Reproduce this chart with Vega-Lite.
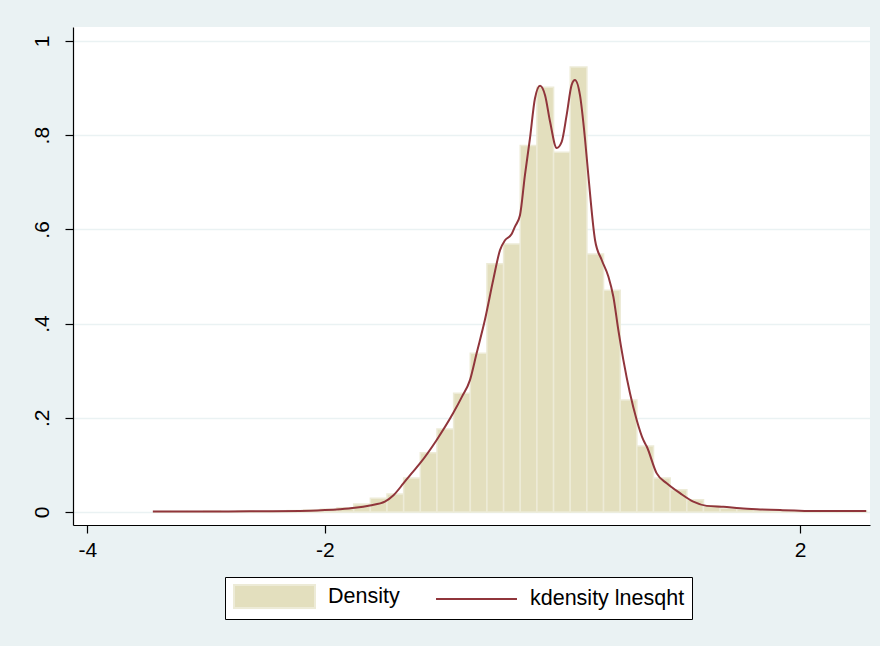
{
  "$schema": "https://vega.github.io/schema/vega-lite/v6.json",
  "autosize": {"type": "none"},
  "padding": {"left": 73, "top": 27, "right": 10, "bottom": 121},
  "width": 797,
  "height": 498,
  "background": "#EAF2F3",
  "config": {
    "view": {"fill": "white", "stroke": null},
    "font": "Liberation Sans",
    "axis": {
      "labelFont": "Liberation Sans",
      "labelFontSize": 21,
      "labelColor": "black",
      "domainColor": "black",
      "domainWidth": 1.2,
      "tickColor": "black",
      "tickWidth": 1.2,
      "tickSize": 8,
      "title": null
    }
  },
  "datasets": {
    "bars": [
      {"start": -3.4400, "end": -3.2998, "density": 0.001, "series": "Density"},
      {"start": -3.2998, "end": -3.1596, "density": 0.001, "series": "Density"},
      {"start": -3.1596, "end": -3.0194, "density": 0.001, "series": "Density"},
      {"start": -3.0194, "end": -2.8792, "density": 0.002, "series": "Density"},
      {"start": -2.8792, "end": -2.7390, "density": 0.001, "series": "Density"},
      {"start": -2.7390, "end": -2.5988, "density": 0.002, "series": "Density"},
      {"start": -2.5988, "end": -2.4586, "density": 0.001, "series": "Density"},
      {"start": -2.4586, "end": -2.3184, "density": 0.002, "series": "Density"},
      {"start": -2.3184, "end": -2.1782, "density": 0.003, "series": "Density"},
      {"start": -2.1782, "end": -2.0380, "density": 0.004, "series": "Density"},
      {"start": -2.0380, "end": -1.8978, "density": 0.006, "series": "Density"},
      {"start": -1.8978, "end": -1.7576, "density": 0.009, "series": "Density"},
      {"start": -1.7576, "end": -1.6174, "density": 0.017, "series": "Density"},
      {"start": -1.6174, "end": -1.4772, "density": 0.029, "series": "Density"},
      {"start": -1.4772, "end": -1.3370, "density": 0.038, "series": "Density"},
      {"start": -1.3370, "end": -1.1968, "density": 0.072, "series": "Density"},
      {"start": -1.1968, "end": -1.0566, "density": 0.126, "series": "Density"},
      {"start": -1.0566, "end": -0.9164, "density": 0.176, "series": "Density"},
      {"start": -0.9164, "end": -0.7762, "density": 0.252, "series": "Density"},
      {"start": -0.7762, "end": -0.6360, "density": 0.337, "series": "Density"},
      {"start": -0.6360, "end": -0.4958, "density": 0.527, "series": "Density"},
      {"start": -0.4958, "end": -0.3556, "density": 0.569, "series": "Density"},
      {"start": -0.3556, "end": -0.2154, "density": 0.778, "series": "Density"},
      {"start": -0.2154, "end": -0.0752, "density": 0.902, "series": "Density"},
      {"start": -0.0752, "end": 0.0650, "density": 0.764, "series": "Density"},
      {"start": 0.0650, "end": 0.2052, "density": 0.945, "series": "Density"},
      {"start": 0.2052, "end": 0.3454, "density": 0.548, "series": "Density"},
      {"start": 0.3454, "end": 0.4856, "density": 0.471, "series": "Density"},
      {"start": 0.4856, "end": 0.6258, "density": 0.238, "series": "Density"},
      {"start": 0.6258, "end": 0.7660, "density": 0.140, "series": "Density"},
      {"start": 0.7660, "end": 0.9062, "density": 0.072, "series": "Density"},
      {"start": 0.9062, "end": 1.0464, "density": 0.047, "series": "Density"},
      {"start": 1.0464, "end": 1.1866, "density": 0.026, "series": "Density"},
      {"start": 1.1866, "end": 1.3268, "density": 0.013, "series": "Density"},
      {"start": 1.3268, "end": 1.4670, "density": 0.008, "series": "Density"},
      {"start": 1.4670, "end": 1.6072, "density": 0.006, "series": "Density"},
      {"start": 1.6072, "end": 1.7474, "density": 0.004, "series": "Density"},
      {"start": 1.7474, "end": 1.8876, "density": 0.003, "series": "Density"},
      {"start": 1.8876, "end": 2.0278, "density": 0.002, "series": "Density"},
      {"start": 2.0278, "end": 2.1680, "density": 0.002, "series": "Density"},
      {"start": 2.1680, "end": 2.3082, "density": 0.001, "series": "Density"},
      {"start": 2.3082, "end": 2.4484, "density": 0.001, "series": "Density"},
      {"start": 2.4484, "end": 2.5600, "density": 0.002, "series": "Density"}
    ],
    "curve": [
      {"x": -3.448, "density": 0.001, "series": "kdensity lnesqht"},
      {"x": -3.053, "density": 0.001, "series": "kdensity lnesqht"},
      {"x": -2.632, "density": 0.0015, "series": "kdensity lnesqht"},
      {"x": -2.211, "density": 0.002, "series": "kdensity lnesqht"},
      {"x": -2.0, "density": 0.004, "series": "kdensity lnesqht"},
      {"x": -1.874, "density": 0.006, "series": "kdensity lnesqht"},
      {"x": -1.747, "density": 0.009, "series": "kdensity lnesqht"},
      {"x": -1.621, "density": 0.014, "series": "kdensity lnesqht"},
      {"x": -1.495, "density": 0.022, "series": "kdensity lnesqht"},
      {"x": -1.425, "density": 0.035, "series": "kdensity lnesqht"},
      {"x": -1.341, "density": 0.060, "series": "kdensity lnesqht"},
      {"x": -1.284, "density": 0.078, "series": "kdensity lnesqht"},
      {"x": -1.2, "density": 0.103, "series": "kdensity lnesqht"},
      {"x": -1.059, "density": 0.153, "series": "kdensity lnesqht"},
      {"x": -0.92, "density": 0.21, "series": "kdensity lnesqht"},
      {"x": -0.846, "density": 0.245, "series": "kdensity lnesqht"},
      {"x": -0.779, "density": 0.28, "series": "kdensity lnesqht"},
      {"x": -0.723, "density": 0.337, "series": "kdensity lnesqht"},
      {"x": -0.653, "density": 0.408, "series": "kdensity lnesqht"},
      {"x": -0.583, "density": 0.493, "series": "kdensity lnesqht"},
      {"x": -0.526, "density": 0.556, "series": "kdensity lnesqht"},
      {"x": -0.484, "density": 0.577, "series": "kdensity lnesqht"},
      {"x": -0.428, "density": 0.59, "series": "kdensity lnesqht"},
      {"x": -0.4, "density": 0.606, "series": "kdensity lnesqht"},
      {"x": -0.358, "density": 0.63, "series": "kdensity lnesqht"},
      {"x": -0.316, "density": 0.716, "series": "kdensity lnesqht"},
      {"x": -0.274, "density": 0.793, "series": "kdensity lnesqht"},
      {"x": -0.232, "density": 0.878, "series": "kdensity lnesqht"},
      {"x": -0.189, "density": 0.905, "series": "kdensity lnesqht"},
      {"x": -0.147, "density": 0.885, "series": "kdensity lnesqht"},
      {"x": -0.105, "density": 0.829, "series": "kdensity lnesqht"},
      {"x": -0.049, "density": 0.773, "series": "kdensity lnesqht"},
      {"x": -0.007, "density": 0.786, "series": "kdensity lnesqht"},
      {"x": 0.035, "density": 0.843, "series": "kdensity lnesqht"},
      {"x": 0.077, "density": 0.907, "series": "kdensity lnesqht"},
      {"x": 0.105, "density": 0.917, "series": "kdensity lnesqht"},
      {"x": 0.147, "density": 0.885, "series": "kdensity lnesqht"},
      {"x": 0.189, "density": 0.793, "series": "kdensity lnesqht"},
      {"x": 0.217, "density": 0.716, "series": "kdensity lnesqht"},
      {"x": 0.274, "density": 0.577, "series": "kdensity lnesqht"},
      {"x": 0.33, "density": 0.535, "series": "kdensity lnesqht"},
      {"x": 0.386, "density": 0.5, "series": "kdensity lnesqht"},
      {"x": 0.428, "density": 0.457, "series": "kdensity lnesqht"},
      {"x": 0.47, "density": 0.386, "series": "kdensity lnesqht"},
      {"x": 0.512, "density": 0.323, "series": "kdensity lnesqht"},
      {"x": 0.568, "density": 0.252, "series": "kdensity lnesqht"},
      {"x": 0.625, "density": 0.195, "series": "kdensity lnesqht"},
      {"x": 0.68, "density": 0.153, "series": "kdensity lnesqht"},
      {"x": 0.709, "density": 0.139, "series": "kdensity lnesqht"},
      {"x": 0.793, "density": 0.082, "series": "kdensity lnesqht"},
      {"x": 0.877, "density": 0.061, "series": "kdensity lnesqht"},
      {"x": 0.989, "density": 0.04, "series": "kdensity lnesqht"},
      {"x": 1.101, "density": 0.022, "series": "kdensity lnesqht"},
      {"x": 1.214, "density": 0.013, "series": "kdensity lnesqht"},
      {"x": 1.354, "density": 0.011, "series": "kdensity lnesqht"},
      {"x": 1.495, "density": 0.008, "series": "kdensity lnesqht"},
      {"x": 1.635, "density": 0.006, "series": "kdensity lnesqht"},
      {"x": 1.832, "density": 0.004, "series": "kdensity lnesqht"},
      {"x": 2.168, "density": 0.002, "series": "kdensity lnesqht"},
      {"x": 2.556, "density": 0.002, "series": "kdensity lnesqht"}
    ]
  },
  "layer": [
    {
      "data": {"name": "bars"},
      "mark": {"type": "bar", "fill": "#E3DFBE", "stroke": "#EDEBD7", "strokeWidth": 1.5},
      "encoding": {
        "x": {
          "field": "start", "type": "quantitative",
          "scale": {"domain": [-4.12, 2.588], "nice": false, "zero": false},
          "axis": {"values": [-4, -2, 2], "grid": false, "labelPadding": 6,
                   "labelExpr": "datum.value < 0 ? '-' + abs(datum.value) : '' + datum.value"}
        },
        "x2": {"field": "end"},
        "y": {
          "field": "density", "type": "quantitative",
          "scale": {"domain": [-0.0276, 1.0297], "nice": false, "zero": false},
          "axis": {
            "values": [0, 0.2, 0.4, 0.6, 0.8, 1],
            "grid": true, "gridColor": "#EAF2F3", "gridWidth": 1.5,
            "labelAngle": -90, "labelAlign": "center", "labelBaseline": "bottom",
            "labelPadding": 13,
            "labelExpr": "datum.value == 0 ? '0' : datum.value == 1 ? '1' : replace(format(datum.value, '.1f'), '0.', '.')"
          }
        },
        "y2": {"datum": 0}
      }
    },
    {
      "data": {"name": "curve"},
      "mark": {"type": "line", "interpolate": "monotone", "strokeWidth": 2, "stroke": "#90353B"},
      "encoding": {
        "x": {"field": "x", "type": "quantitative"},
        "y": {"field": "density", "type": "quantitative"}
      }
    },
    {
      "data": {"name": "bars"},
      "mark": {"type": "point", "opacity": 0, "size": 0},
      "encoding": {
        "x": {"field": "start", "type": "quantitative"},
        "y": {"field": "density", "type": "quantitative"},
        "shape": {
          "field": "series", "type": "nominal",
          "scale": {"domain": ["Density", "kdensity lnesqht"], "range": ["M-3.52,-1H3.52V1H-3.52Z", "M-3.52,0H3.52"]},
          "legend": {
            "orient": "none", "legendX": 152, "legendY": 550,
            "direction": "horizontal", "title": null,
            "padding": 7, "strokeColor": "black", "fillColor": "white",
            "labelFont": "Liberation Sans", "labelFontSize": 21.5, "labelColor": "black",
            "labelLimit": 400, "symbolSize": 529, "symbolOffset": 30, "labelOffset": 41,
            "columnPadding": 32, "symbolStrokeWidth": 2, "symbolOpacity": 1,
            "labelExpr": "datum.label == 'kdensity lnesqht' ? datum.label + '  ' : datum.label"
          }
        },
        "fill": {
          "field": "series", "type": "nominal",
          "scale": {"domain": ["Density", "kdensity lnesqht"], "range": ["#E3DFBE", "transparent"]},
          "legend": {
            "orient": "none", "legendX": 152, "legendY": 550,
            "direction": "horizontal", "title": null,
            "padding": 7, "strokeColor": "black", "fillColor": "white",
            "labelFont": "Liberation Sans", "labelFontSize": 21.5, "labelColor": "black",
            "labelLimit": 400, "symbolSize": 529, "symbolOffset": 30, "labelOffset": 41,
            "columnPadding": 32, "symbolStrokeWidth": 2, "symbolOpacity": 1,
            "labelExpr": "datum.label == 'kdensity lnesqht' ? datum.label + '  ' : datum.label"
          }
        },
        "stroke": {
          "field": "series", "type": "nominal",
          "scale": {"domain": ["Density", "kdensity lnesqht"], "range": ["#EDEBD7", "#90353B"]},
          "legend": {
            "orient": "none", "legendX": 152, "legendY": 550,
            "direction": "horizontal", "title": null,
            "padding": 7, "strokeColor": "black", "fillColor": "white",
            "labelFont": "Liberation Sans", "labelFontSize": 21.5, "labelColor": "black",
            "labelLimit": 400, "symbolSize": 529, "symbolOffset": 30, "labelOffset": 41,
            "columnPadding": 32, "symbolStrokeWidth": 2, "symbolOpacity": 1,
            "labelExpr": "datum.label == 'kdensity lnesqht' ? datum.label + '  ' : datum.label"
          }
        }
      }
    }
  ]
}
